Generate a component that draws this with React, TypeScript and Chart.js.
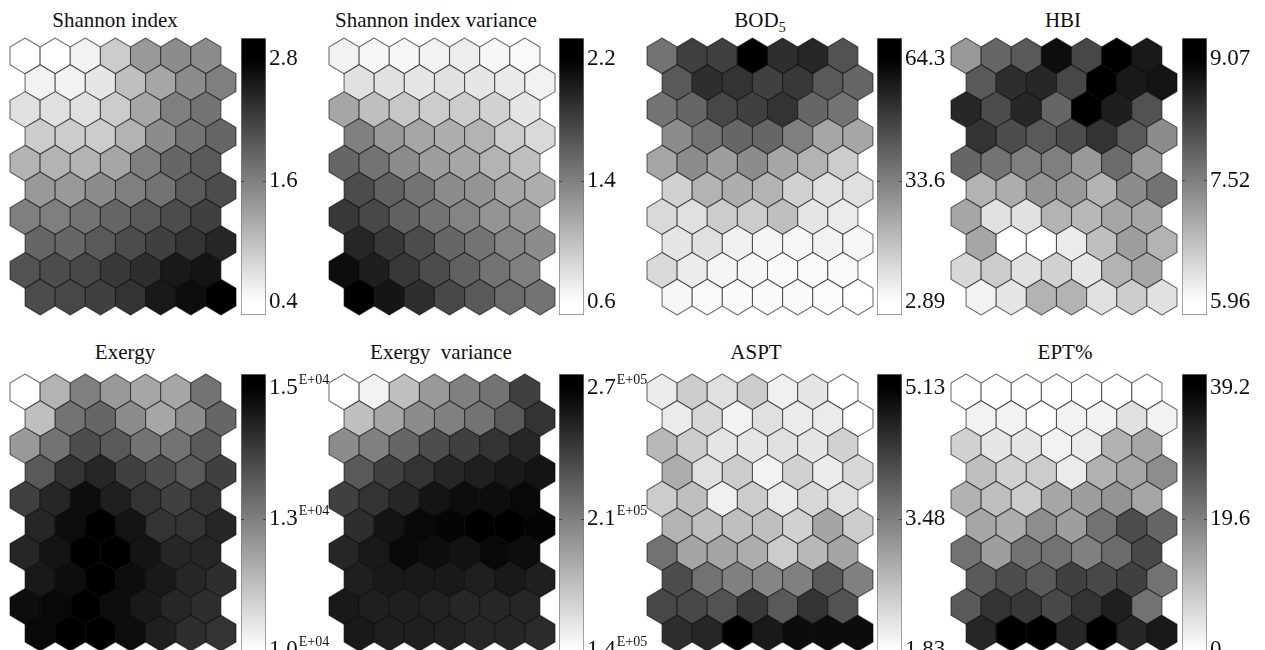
import React, { useEffect, useRef } from "react";
import { Chart, registerables } from "chart.js";

Chart.register(...registerables);

// ---------------- DATA (SOM component planes, 10 rows x 7 columns) ----------------
const shannonIndex = [
  [0.40, 0.40, 0.52, 0.88, 1.36, 1.48, 1.48],
  [0.52, 0.52, 0.64, 1.00, 1.24, 1.48, 1.60],
  [0.69, 0.69, 0.69, 0.88, 1.24, 1.60, 1.72],
  [0.88, 0.88, 0.88, 1.12, 1.48, 1.72, 1.84],
  [1.12, 1.12, 1.12, 1.24, 1.60, 1.84, 1.96],
  [1.36, 1.36, 1.48, 1.60, 1.72, 1.96, 2.08],
  [1.60, 1.60, 1.72, 1.84, 1.96, 2.08, 2.20],
  [1.84, 1.84, 1.96, 2.08, 2.20, 2.32, 2.44],
  [2.03, 2.08, 2.13, 2.27, 2.37, 2.56, 2.61],
  [2.08, 2.13, 2.20, 2.32, 2.56, 2.68, 2.80],
];

const shannonVariance = [
  [0.68, 0.65, 0.65, 0.68, 0.71, 0.65, 0.63],
  [0.79, 0.79, 0.76, 0.79, 0.76, 0.73, 0.68],
  [1.16, 1.00, 0.95, 0.92, 0.92, 0.89, 0.76],
  [1.40, 1.24, 1.16, 1.11, 1.08, 0.92, 0.84],
  [1.56, 1.48, 1.32, 1.21, 1.16, 1.08, 1.00],
  [1.72, 1.59, 1.48, 1.32, 1.27, 1.16, 1.11],
  [1.85, 1.75, 1.59, 1.48, 1.37, 1.27, 1.24],
  [1.96, 1.85, 1.72, 1.56, 1.48, 1.37, 1.32],
  [2.12, 2.01, 1.85, 1.72, 1.59, 1.48, 1.40],
  [2.20, 2.07, 1.91, 1.75, 1.64, 1.53, 1.48],
];

const bod5 = [
  [36.7, 48.9, 48.9, 64.3, 53.2, 55.1, 44.6],
  [42.8, 53.2, 52.0, 48.9, 50.8, 42.8, 39.7],
  [36.7, 39.7, 47.1, 48.9, 52.0, 39.7, 36.7],
  [30.5, 36.7, 39.7, 39.7, 33.6, 24.4, 24.4],
  [24.4, 30.5, 26.2, 30.5, 24.4, 21.3, 15.2],
  [14.0, 21.3, 22.5, 21.3, 14.0, 10.3, 10.3],
  [12.1, 10.3, 15.2, 15.2, 18.2, 9.0, 7.8],
  [9.0, 10.3, 6.6, 5.3, 4.7, 6.0, 4.7],
  [12.1, 7.8, 5.3, 4.7, 4.1, 4.1, 4.1],
  [4.7, 4.1, 4.1, 4.1, 4.1, 3.5, 2.89],
];

const hbi = [
  [7.20, 7.83, 7.98, 8.91, 8.20, 9.07, 8.76],
  [7.98, 8.51, 8.60, 8.20, 9.07, 8.76, 8.82],
  [8.60, 8.14, 8.60, 7.83, 9.07, 8.70, 8.07],
  [8.45, 8.14, 7.98, 8.14, 8.45, 7.98, 7.36],
  [7.83, 7.67, 7.52, 7.52, 7.20, 7.76, 7.20],
  [6.89, 6.96, 7.27, 7.20, 6.89, 7.36, 7.67],
  [7.05, 6.33, 6.33, 6.89, 6.83, 7.05, 7.05],
  [7.05, 5.96, 5.96, 6.21, 6.74, 7.14, 6.89],
  [6.43, 6.58, 6.33, 6.52, 6.27, 6.89, 7.05],
  [6.12, 6.27, 6.89, 6.89, 6.33, 6.58, 6.33],
];

const exergy = [
  [10000, 11500, 12500, 12000, 11750, 11750, 12750],
  [11250, 12750, 13000, 12250, 11750, 12250, 13000],
  [12000, 12750, 13500, 13250, 12750, 12750, 13250],
  [13250, 14000, 14250, 13750, 13500, 13250, 13750],
  [13750, 14250, 14750, 14400, 14000, 13750, 14000],
  [14250, 14750, 15000, 14600, 14000, 14000, 14250],
  [14250, 14600, 15000, 15000, 14600, 14250, 14250],
  [14500, 14750, 15000, 14750, 14500, 14250, 14100],
  [14750, 14850, 15000, 14750, 14500, 14250, 14100],
  [14850, 15000, 15000, 14750, 14400, 14100, 14000],
];

const exergyVariance = [
  [140000, 146500, 172500, 192000, 205000, 211500, 237500],
  [172500, 185500, 198500, 205000, 211500, 224500, 244000],
  [198500, 205000, 218000, 231000, 237500, 244000, 250500],
  [224500, 237500, 244000, 250500, 254400, 257000, 259600],
  [237500, 244000, 250500, 259600, 263500, 263500, 266100],
  [246600, 259600, 266100, 267400, 270000, 270000, 267400],
  [250500, 257000, 266100, 263500, 260900, 266100, 263500],
  [254400, 257000, 257000, 257000, 254400, 257000, 254400],
  [257000, 254400, 254400, 253100, 250500, 250500, 250500],
  [257000, 254400, 254400, 253100, 250500, 250500, 247900],
];

const aspt = [
  [2.09, 2.49, 2.23, 2.49, 2.03, 2.16, 1.83],
  [2.09, 2.33, 2.00, 2.23, 2.09, 2.09, 1.83],
  [2.75, 2.49, 2.16, 2.16, 2.23, 2.16, 2.42],
  [2.89, 2.23, 2.49, 2.00, 2.42, 2.09, 2.33],
  [2.49, 2.66, 2.03, 2.49, 2.09, 2.33, 2.23],
  [2.82, 2.66, 2.66, 2.66, 2.42, 2.99, 2.49],
  [3.65, 2.99, 2.99, 2.89, 2.49, 2.75, 2.99],
  [4.14, 3.65, 3.48, 3.41, 3.48, 3.98, 3.48],
  [4.21, 4.21, 4.07, 4.40, 3.98, 4.47, 4.07],
  [4.54, 4.64, 5.13, 4.80, 4.97, 4.97, 4.97],
];

const eptPercent = [
  [0, 0, 0, 0, 0, 0, 0],
  [2.0, 2.0, 0, 2.0, 2.0, 4.7, 2.0],
  [7.1, 3.9, 3.9, 2.0, 3.1, 11.8, 13.7],
  [9.8, 7.1, 7.8, 3.1, 11.8, 13.7, 17.6],
  [11.8, 9.8, 7.8, 13.7, 14.9, 16.5, 13.7],
  [13.7, 12.5, 17.6, 14.9, 21.6, 27.4, 23.5],
  [21.6, 14.9, 21.6, 21.6, 19.6, 22.7, 28.2],
  [25.5, 27.4, 25.5, 29.4, 28.2, 29.4, 21.6],
  [25.5, 31.4, 30.6, 28.2, 31.4, 34.5, 21.6],
  [33.3, 39.2, 39.2, 33.3, 39.2, 33.3, 35.3],
];

// colour-bar ranges (min, max) and tick labels (max, mid, min)
const ranges: [number, number][] = [
  [0.4, 2.8], [0.6, 2.2], [2.89, 64.3], [5.96, 9.07],
  [10000, 15000], [140000, 270000], [1.83, 5.13], [0, 39.2],
];
const tickLabels = [
  ["2.8", "1.6", "0.4"], ["2.2", "1.4", "0.6"], ["64.3", "33.6", "2.89"], ["9.07", "7.52", "5.96"],
  ["1.5", "1.3", "1.0"], ["2.7", "2.1", "1.4"], ["5.13", "3.48", "1.83"], ["39.2", "19.6", "0"],
];
const tickExponents = ["", "", "", "", "E+04", "E+05", "", ""];
const titles = ["Shannon index", "Shannon index variance", "BOD", "HBI", "Exergy", "Exergy  variance", "ASPT", "EPT%"];
const titleSubscripts = ["", "", "5", "", "", "", "", ""];
const planes = [shannonIndex, shannonVariance, bod5, hbi, exergy, exergyVariance, aspt, eptPercent];

// ---------------- LAYOUT ----------------
const GRID_COLS = 7;
const GRID_ROWS = 10;
const GRID_LEFTS = [10, 329, 647, 951];
const CB_LEFTS = [241, 559, 877, 1182];
const ROW_TOPS = [38, 374];
const GRID_W = 226;
const GRID_H = 277;
const CB_W = 25;
const TITLE_X = [[115, 436, 760, 1063], [125, 441, 756, 1065]];
const TITLE_BASE = [28, 360];
const TICK_INSET = [[21, 13], [14, 1]]; // [top, bottom] pixel inset of max/min ticks in the bar
const SERIF_NAME = "Liberation Serif";
const SERIF = `"${SERIF_NAME}", "Times New Roman", serif`;

function shade(v: number, lo: number, hi: number) {
  const d = Math.max(0, Math.min(1, (v - lo) / (hi - lo)));
  const g = Math.round(255 * (1 - d));
  return `rgb(${g},${g},${g})`;
}

function hexPlugin(lo: number, hi: number) {
  return {
    id: "hexCells",
    afterDatasetsDraw(chart: any) {
      const { ctx } = chart;
      const xs = chart.scales.x;
      const ys = chart.scales.y;
      const pts = chart.data.datasets[0].data as any[];
      ctx.save();
      ctx.lineWidth = 1.1;
      ctx.strokeStyle = "rgba(0,0,0,0.55)";
      ctx.lineJoin = "round";
      for (const p of pts) {
        ctx.beginPath();
        ctx.moveTo(xs.getPixelForValue(p.x), ys.getPixelForValue(p.y - 2 / 3));
        ctx.lineTo(xs.getPixelForValue(p.x + 0.5), ys.getPixelForValue(p.y - 1 / 3));
        ctx.lineTo(xs.getPixelForValue(p.x + 0.5), ys.getPixelForValue(p.y + 1 / 3));
        ctx.lineTo(xs.getPixelForValue(p.x), ys.getPixelForValue(p.y + 2 / 3));
        ctx.lineTo(xs.getPixelForValue(p.x - 0.5), ys.getPixelForValue(p.y + 1 / 3));
        ctx.lineTo(xs.getPixelForValue(p.x - 0.5), ys.getPixelForValue(p.y - 1 / 3));
        ctx.closePath();
        ctx.fillStyle = shade(p.v, lo, hi);
        ctx.fill();
        ctx.stroke();
      }
      ctx.restore();
    },
  };
}

function HexMap({ idx }: { idx: number }) {
  const ref = useRef<HTMLCanvasElement>(null);
  const row = Math.floor(idx / 4);
  const col = idx % 4;
  useEffect(() => {
    const [lo, hi] = ranges[idx];
    const points: any[] = [];
    planes[idx].forEach((r: number[], ri: number) =>
      r.forEach((v, ci) => points.push({ x: ci + (ri % 2 ? 0.5 : 0), y: ri, v }))
    );
    const chart = new Chart(ref.current as HTMLCanvasElement, {
      type: "scatter",
      data: { datasets: [{ data: points, pointRadius: 0, pointHoverRadius: 0 }] },
      options: {
        animation: false,
        responsive: false,
        events: [],
        layout: { padding: 1 },
        plugins: { legend: { display: false }, tooltip: { enabled: false } },
        scales: {
          x: { type: "linear", display: false, min: -0.5, max: GRID_COLS },
          y: { type: "linear", display: false, min: -2 / 3, max: GRID_ROWS - 1 + 2 / 3, reverse: true },
        },
      } as any,
      plugins: [hexPlugin(lo, hi)],
    });
    return () => chart.destroy();
  }, [idx]);
  return (
    <canvas
      ref={ref}
      width={GRID_W + 2}
      height={GRID_H + 2}
      style={{ position: "absolute", left: GRID_LEFTS[col] - 1, top: ROW_TOPS[row] - 1, width: GRID_W + 2, height: GRID_H + 2 }}
    />
  );
}

function ColorBar({ idx }: { idx: number }) {
  const ref = useRef<HTMLCanvasElement>(null);
  const row = Math.floor(idx / 4);
  const col = idx % 4;
  const LABEL_W = 80;
  useEffect(() => {
    const [lo, hi] = ranges[idx];
    const [insTop, insBot] = TICK_INSET[row];
    const perPx = (hi - lo) / (GRID_H - insTop - insBot);
    const yMax = hi + insTop * perPx;
    const yMin = lo - insBot * perPx;
    const labels = tickLabels[idx];
    const expo = tickExponents[idx];
    const labelPlugin = {
      id: "cbLabels",
      afterDraw(chart: any) {
        const { ctx, chartArea } = chart;
        const ys = chart.scales.y;
        const vals = [hi, (hi + lo) / 2, lo];
        ctx.save();
        ctx.fillStyle = "#111";
        ctx.textBaseline = "middle";
        ctx.textAlign = "left";
        vals.forEach((v, i) => {
          const y = ys.getPixelForValue(v);
          const x = chartArea.right + 3;
          ctx.font = `23px ${SERIF}`;
          ctx.fillText(labels[i], x, y);
          if (expo) {
            const w = ctx.measureText(labels[i]).width;
            ctx.font = `14px ${SERIF}`;
            ctx.fillText(expo, x + w + 1, y - 8);
          }
          if (i === 1) {
            ctx.strokeStyle = "#444";
            ctx.lineWidth = 1;
            ctx.beginPath();
            ctx.moveTo(chartArea.left, Math.round(y) + 0.5);
            ctx.lineTo(chartArea.left + 3, Math.round(y) + 0.5);
            ctx.moveTo(chartArea.right - 3, Math.round(y) + 0.5);
            ctx.lineTo(chartArea.right, Math.round(y) + 0.5);
            ctx.stroke();
          }
        });
        ctx.restore();
      },
    };
    const chart = new Chart(ref.current as HTMLCanvasElement, {
      type: "bar",
      data: {
        labels: [""],
        datasets: [
          {
            data: [[yMin, yMax]],
            backgroundColor: (c: any) => {
              const ch = c.chart;
              if (!ch.chartArea) return "#888";
              const ys = ch.scales.y;
              const g = ch.ctx.createLinearGradient(0, ys.getPixelForValue(lo), 0, ys.getPixelForValue(hi));
              g.addColorStop(0, "#ffffff");
              g.addColorStop(1, "#000000");
              return g;
            },
            borderColor: "#7a7a7a",
            borderWidth: 1,
            borderSkipped: false,
            barPercentage: 1,
            categoryPercentage: 1,
          },
        ],
      },
      options: {
        animation: false,
        responsive: false,
        events: [],
        layout: { padding: { left: 1, top: 1, bottom: 1, right: LABEL_W } },
        plugins: { legend: { display: false }, tooltip: { enabled: false } },
        scales: {
          x: { display: false },
          y: { display: false, min: yMin, max: yMax },
        },
      } as any,
      plugins: [labelPlugin],
    });
    let alive = true;
    const fonts: any = (document as any).fonts;
    if (fonts && fonts.load) {
      Promise.all([fonts.load(`23px "${SERIF_NAME}"`), fonts.load(`14px "${SERIF_NAME}"`)])
        .then(() => {
          if (alive) chart.update("none");
        })
        .catch(() => {});
    }
    return () => {
      alive = false;
      chart.destroy();
    };
  }, [idx]);
  return (
    <canvas
      ref={ref}
      width={CB_W + 1 + LABEL_W}
      height={GRID_H + 2}
      style={{
        position: "absolute",
        left: CB_LEFTS[col] - 1,
        top: ROW_TOPS[row] - 1,
        width: CB_W + 1 + LABEL_W,
        height: GRID_H + 2,
      }}
    />
  );
}

function Title({ idx }: { idx: number }) {
  const row = Math.floor(idx / 4);
  const col = idx % 4;
  const fs = 21;
  return (
    <div
      style={{
        position: "absolute",
        left: TITLE_X[row][col],
        top: TITLE_BASE[row] - 17.6,
        transform: "translateX(-50%)",
        fontFamily: SERIF,
        fontSize: fs,
        lineHeight: `${fs}px`,
        color: "#111",
        whiteSpace: "pre",
      }}
    >
      {titles[idx]}
      {titleSubscripts[idx] ? (
        <span style={{ fontSize: 14, position: "relative", top: 5 }}>{titleSubscripts[idx]}</span>
      ) : null}
    </div>
  );
}

export default function App() {
  const ids = [0, 1, 2, 3, 4, 5, 6, 7];
  return (
    <div
      style={{
        position: "fixed",
        left: 0,
        top: 0,
        width: 1265,
        height: 650,
        overflow: "hidden",
        background: "#ffffff",
      }}
    >
      {ids.map((i) => (
        <React.Fragment key={i}>
          <Title idx={i} />
          <HexMap idx={i} />
          <ColorBar idx={i} />
        </React.Fragment>
      ))}
    </div>
  );
}
